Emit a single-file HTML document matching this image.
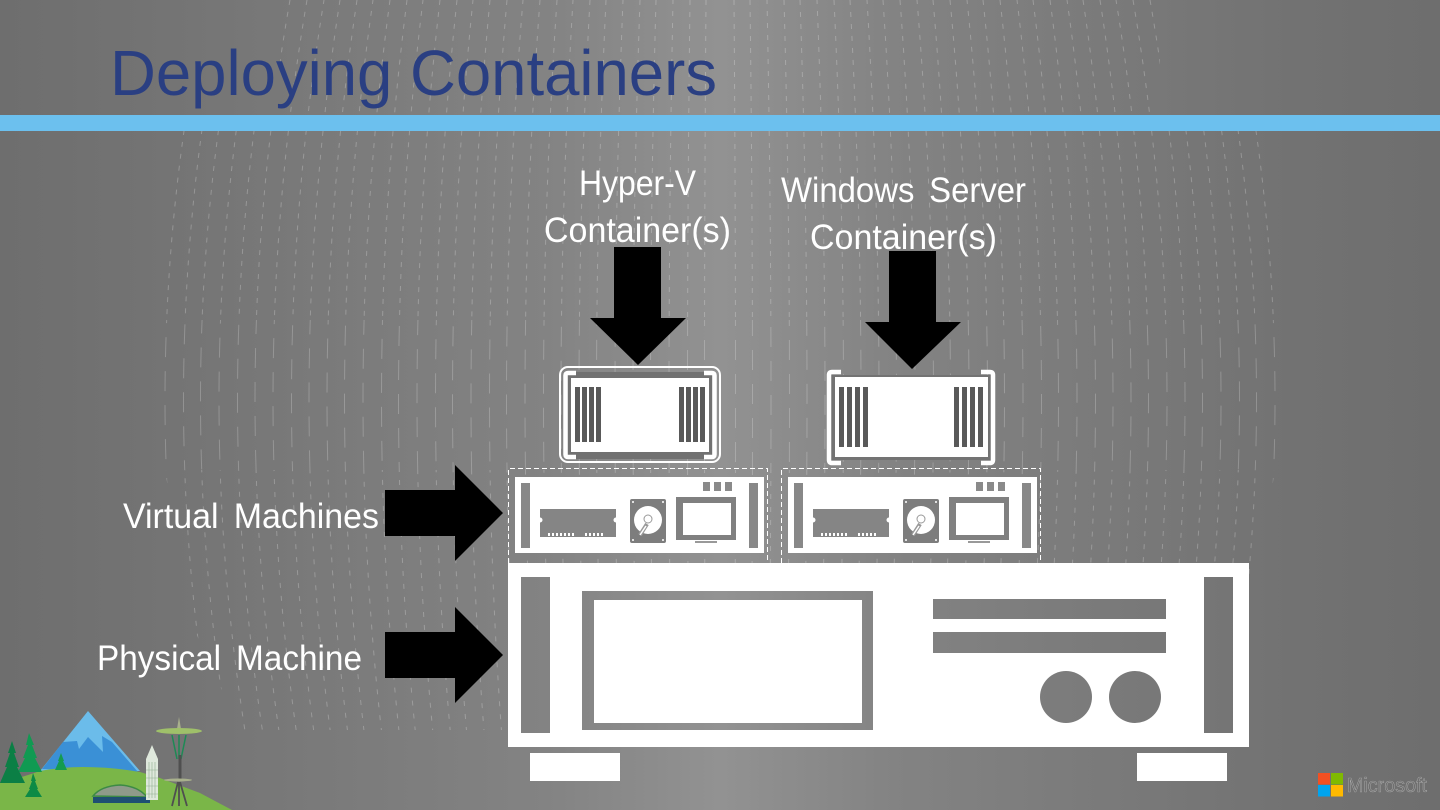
<!DOCTYPE html>
<html lang="en">
<head>
<meta charset="utf-8">
<title>Deploying Containers</title>
<style>
html,body{margin:0;padding:0;width:1440px;height:810px;overflow:hidden;background:#777}
svg{display:block}
text{font-family:"Liberation Sans",sans-serif}
text.l{font-size:35px;fill:#fff;word-spacing:6px}
</style>
</head>
<body>
<svg width="1440" height="810" viewBox="0 0 1440 810" xmlns="http://www.w3.org/2000/svg">
<defs>
<linearGradient id="bg" gradientUnits="userSpaceOnUse" x1="0" y1="0" x2="1440" y2="0">
<stop offset="0" stop-color="#6e6e6e"/><stop offset=".1" stop-color="#737373"/><stop offset=".38" stop-color="#838383"/><stop offset=".5" stop-color="#929292"/><stop offset=".62" stop-color="#838383"/><stop offset=".9" stop-color="#727272"/><stop offset="1" stop-color="#6e6e6e"/>
</linearGradient>
<clipPath id="top"><path d="M280 0H1160V115L1262 131 1275 320H165L178 131 280 115z"/></clipPath>
<clipPath id="mid"><rect x="160" y="320" width="1120" height="150"/></clipPath>
<clipPath id="bot"><path d="M165 470H1275L1250 620 1200 730H240L190 620z"/></clipPath>
<g id="dl" fill="none" stroke="#fff">
<path stroke-dashoffset="0" d="M207 0q-84 400 0 800M257 0q-76 400 0 800M307 0q-68 400 0 800M357 0q-60 400 0 800M407 0q-51 400 0 800M457 0q-43 400 0 800M507 0q-35 400 0 800M557 0q-27 400 0 800M606 0q-19 400 0 800M656 0q-11 400 0 800M706 0q-3 400 0 800"/>
<path stroke-dashoffset="13" d="M224 0q-81 400 0 800M274 0q-73 400 0 800M324 0q-65 400 0 800M373 0q-57 400 0 800M423 0q-49 400 0 800M473 0q-41 400 0 800M523 0q-33 400 0 800M573 0q-24 400 0 800M623 0q-16 400 0 800M673 0q-8 400 0 800"/>
<path stroke-dashoffset="24" d="M240 0q-79 400 0 800M290 0q-70 400 0 800M340 0q-62 400 0 800M390 0q-54 400 0 800M440 0q-46 400 0 800M490 0q-38 400 0 800M540 0q-30 400 0 800M590 0q-22 400 0 800M640 0q-14 400 0 800M690 0q-5 400 0 800"/>
</g>
<g id="dlb"><use href="#dl"/><use href="#dl" transform="matrix(-1 0 0 1 1440 0)"/></g>
<g id="vm">
<path d="M508.500 563V468.500H767.500V560" fill="none" stroke="#fff" stroke-width="1" stroke-dasharray="5 3"/>
<rect x="515" y="477" width="249" height="76" fill="#fff"/>
<rect x="521" y="483" width="9" height="65" fill="#888"/>
<rect x="749" y="483" width="9" height="65" fill="#888"/>
<rect x="540" y="509" width="76" height="28" fill="#858585"/>
<circle cx="540" cy="520" r="2.500" fill="#fff"/><circle cx="616" cy="520" r="2.500" fill="#fff"/>
<path d="M548 533h2v3h-2zM552 533h2v3h-2zM556 533h2v3h-2zM560 533h2v3h-2zM564 533h2v3h-2zM568 533h2v3h-2zM572 533h2v3h-2zM585 533h2v3h-2zM589 533h2v3h-2zM593 533h2v3h-2zM597 533h2v3h-2zM601 533h2v3h-2z" fill="#fff"/>
<rect x="630" y="499" width="36" height="44" rx="2" fill="#7d7d7d"/>
<circle cx="633" cy="502" r="1" fill="#fff"/><circle cx="663" cy="502" r="1" fill="#fff"/><circle cx="633" cy="540" r="1" fill="#fff"/><circle cx="663" cy="540" r="1" fill="#fff"/>
<circle cx="648" cy="520" r="14" fill="#fff"/>
<circle cx="648" cy="519" r="4" fill="none" stroke="#999" stroke-width="1"/>
<path d="M647 524l-7 11" stroke="#999" stroke-width="4"/>
<path d="M646 526l-6 9" stroke="#fff" stroke-width="1.500"/>
<rect x="676" y="497" width="60" height="43" fill="#808080"/>
<rect x="683" y="503" width="48" height="32" fill="#fff"/>
<rect x="695" y="541" width="22" height="2" fill="#999"/>
<rect x="703" y="482" width="7" height="9" fill="#8a8a8a"/>
<rect x="714" y="482" width="7" height="9" fill="#8a8a8a"/>
<rect x="725" y="482" width="7" height="9" fill="#8a8a8a"/>
</g>
</defs>

<rect width="1440" height="810" fill="url(#bg)"/>
<g clip-path="url(#top)"><use href="#dlb" stroke-dasharray="5 7" stroke-opacity=".24"/></g>
<g clip-path="url(#mid)"><use href="#dlb" stroke-dasharray="20 14" stroke-opacity=".22"/></g>
<g clip-path="url(#bot)"><use href="#dlb" stroke-dasharray="5 8" stroke-opacity=".24"/></g>

<text x="110" y="95" font-size="64" fill="#2a3f82" textLength="607" lengthAdjust="spacingAndGlyphs">Deploying Containers</text>
<rect x="0" y="115" width="1440" height="16" fill="#6cc0ee"/>

<text class="l" x="579" y="195" textLength="117" lengthAdjust="spacingAndGlyphs">Hyper-V</text>
<text class="l" x="544" y="242" textLength="187" lengthAdjust="spacingAndGlyphs">Container(s)</text>
<text class="l" x="781" y="202" textLength="245" lengthAdjust="spacingAndGlyphs">Windows Server</text>
<text class="l" x="810" y="249" textLength="187" lengthAdjust="spacingAndGlyphs">Container(s)</text>
<text class="l" x="123" y="528" textLength="256" lengthAdjust="spacingAndGlyphs">Virtual Machines</text>
<text class="l" x="97" y="670" textLength="265" lengthAdjust="spacingAndGlyphs">Physical Machine</text>

<!-- arrows -->
<path d="M614 247h47v71h25l-48 47-48-47h24z" fill="#000"/>
<path d="M889 251h47v71h25l-49 47-47-47h24z" fill="#000"/>
<path d="M385 490h70v-25l48 48-48 48v-25h-70z" fill="#000"/>
<path d="M385 632h70v-25l48 48-48 48v-25h-70z" fill="#000"/>

<!-- Hyper-V container -->
<rect x="560" y="367" width="160" height="95" rx="8" fill="none" stroke="#fff" stroke-width="2"/>
<rect x="568" y="372" width="144" height="87" fill="#717171"/>
<rect x="571" y="378" width="138" height="74" fill="#fff"/>
<path d="M576 373h-8q-2.500 0-2.500 2.500v79q0 2.500 2.500 2.500h8M704 373h8q2.500 0 2.500 2.500v79q0 2.500-2.500 2.500h-8" fill="none" stroke="#fff" stroke-width="4.500"/>
<path d="M575 387h5v55h-5zM582 387h5v55h-5zM589 387h5v55h-5zM596 387h5v55h-5zM679 387h5v55h-5zM686 387h5v55h-5zM693 387h5v55h-5zM700 387h5v55h-5z" fill="#595959"/>

<!-- Windows Server container -->
<rect x="831" y="375" width="160" height="85" fill="#737373"/>
<rect x="835" y="377" width="153" height="80" fill="#fff"/>
<path d="M841 372h-9q-3 0-3 3v85q0 3 3 3h9M981 372h9q3 0 3 3v85q0 3-3 3h-9" fill="none" stroke="#fff" stroke-width="4.500"/>
<path d="M839 387h5v60h-5zM847 387h5v60h-5zM855 387h5v60h-5zM863 387h5v60h-5zM954 387h5v60h-5zM962 387h5v60h-5zM970 387h5v60h-5zM978 387h5v60h-5z" fill="#595959"/>

<!-- VMs -->
<use href="#vm"/>
<use href="#vm" x="273"/>

<!-- Physical machine -->
<rect x="508" y="563" width="741" height="184" fill="#fff"/>
<rect x="521" y="577" width="29" height="156" fill="url(#bg)"/>
<rect x="1204" y="577" width="29" height="156" fill="url(#bg)"/>
<path fill-rule="evenodd" d="M582 591h291v139h-291zM594 600v123h268v-123z" fill="url(#bg)"/>
<rect x="933" y="599" width="233" height="20" fill="url(#bg)"/>
<rect x="933" y="632" width="233" height="21" fill="url(#bg)"/>
<circle cx="1066" cy="697" r="26" fill="url(#bg)"/>
<circle cx="1135" cy="697" r="26" fill="url(#bg)"/>
<rect x="530" y="753" width="90" height="28" fill="#fff"/>
<rect x="1137" y="753" width="90" height="28" fill="#fff"/>

<!-- Seattle illustration -->
<path d="M88 711L140 771H40z" fill="#6bbcea"/>
<path d="M42 769L63 742 77 741 79 749 88 737 103 752 102 736 112 742 138 772z" fill="#3a90d6"/>
<path d="M0 810V783Q20 778 40 771 62 767 83 767 112 767 140 772L160 778 200 793 232 810z" fill="#7ab648"/>
<path d="M61 753l3 8h-1l4 9H55l4-9h-1z" fill="#149b50"/>
<path d="M29 733l5 12h-2l5 13h-2l7 14H18l7-14h-2l5-13h-2z" fill="#109a52"/>
<path d="M12 741l4 12h-2l5 14h-2l8 16H0l7-16H5l5-14H8z" fill="#0b7f45"/>
<path d="M33 773l3 8h-1l3 8h-1l5 8H25l5-8h-1l3-8h-1z" fill="#0d8a45"/>
<path d="M93 796q8-10 27-11 18 1 27 12z" fill="#8f9a8a" stroke="#3d8a45" stroke-width="1.500"/>
<rect x="93" y="797" width="57" height="6" fill="#1f4f72"/>
<path d="M146 759l6-14 6 14v41h-12z" fill="#dfe8dc"/>
<path d="M149 762v36M152 762v36M155 762v36M146 770h12M146 778h12M146 786h12M146 794h12" stroke="#8fae8f" stroke-width=".6"/>
<path d="M179 717l2 12h-4z" fill="#a8b08c"/>
<ellipse cx="179" cy="731" rx="23" ry="3" fill="#9fc06a"/>
<path d="M172 735l5 24M186 735l-5 24M179 735v24" stroke="#1d8a55" stroke-width="1.500" fill="none"/>
<path d="M180 755v25" stroke="#4f4f4f" stroke-width="3"/>
<ellipse cx="178" cy="780" rx="14" ry="1.500" fill="#a8b08c"/>
<path d="M178 782l-6 24M180 782l7 24M179 782v24" stroke="#4f4f4f" stroke-width="1.800"/>

<!-- Microsoft logo -->
<rect x="1318" y="773" width="12" height="11.500" fill="#f25022"/>
<rect x="1331" y="773" width="12" height="11.500" fill="#7fba00"/>
<rect x="1318" y="785" width="12" height="11.500" fill="#00a4ef"/>
<rect x="1331" y="785" width="12" height="11.500" fill="#ffb900"/>
<text x="1347" y="792" font-size="20" fill="#6f6f6f" stroke="#bdbdbd" stroke-width=".35" textLength="80" lengthAdjust="spacingAndGlyphs">Microsoft</text>
</svg>
</body>
</html>
